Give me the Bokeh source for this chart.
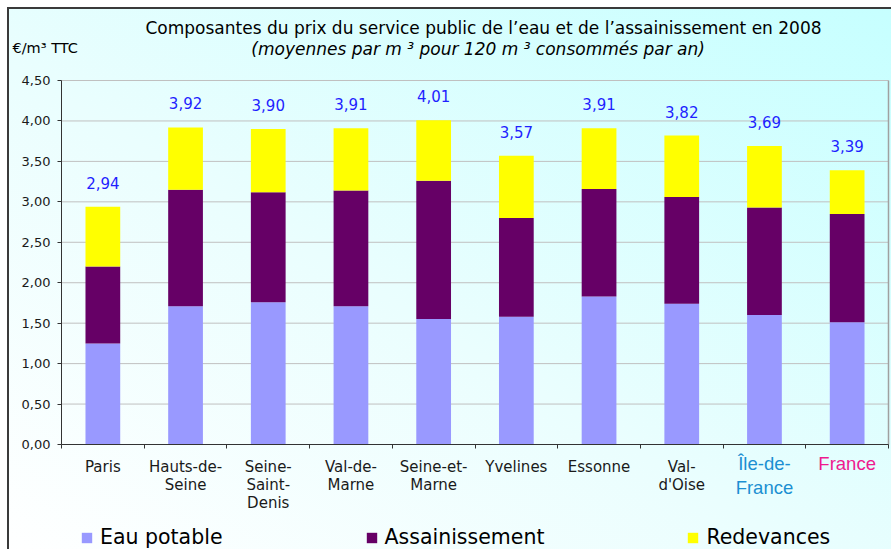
import numpy as np
from bokeh.plotting import figure
from bokeh.models import (ColumnDataSource, Range1d, FixedTicker, CustomJSTickFormatter,
                          LabelSet, Label, LinearAxis)
from bokeh.core.properties import value
from bokeh.embed import file_html
from bokeh.resources import INLINE

# ---- data ----
categories = ["Paris", "Hauts-de-\nSeine", "Seine-\nSaint-\nDenis", "Val-de-\nMarne",
              "Seine-et-\nMarne", "Yvelines", "Essonne", "Val-\nd'Oise",
              "Île-de-\nFrance", "France"]
eau_potable = [1.25, 1.71, 1.76, 1.71, 1.55, 1.58, 1.83, 1.74, 1.60, 1.51]
assainissement = [0.95, 1.44, 1.36, 1.43, 1.71, 1.22, 1.33, 1.32, 1.33, 1.34]
redevances = [0.74, 0.77, 0.78, 0.77, 0.75, 0.77, 0.75, 0.76, 0.76, 0.54]
totals = [2.94, 3.92, 3.90, 3.91, 4.01, 3.57, 3.91, 3.82, 3.69, 3.39]
series_names = ["Eau potable", "Assainissement", "Redevances"]
y_ticks = [0.0, 0.5, 1.0, 1.5, 2.0, 2.5, 3.0, 3.5, 4.0, 4.5]

# ---- styles ----
series_colors = ["#9999ff", "#660066", "#ffff00"]
label_colors = ["#1a1a1a"] * 8 + ["#1b8fd2", "#ee1a8e"]
label_fonts = ["DejaVu Sans"] * 8 + ["Liberation Sans", "Liberation Sans"]
label_sizes = ["15px"] * 8 + ["18.5px", "18.5px"]
label_first = [22] * 8 + [19, 19]      # px below the axis of the first line centre
label_step = [18] * 8 + [24, 24]       # px between lines

W, H = 891, 549
# plot-area placement (pixels) inside the canvas
PL, PR, PT, PB = 61, 888, 80, 444

n = len(categories)
xpos = np.arange(n) + 0.5
ymax = y_ticks[-1]
xu = (PR - PL) / n
yu = (PB - PT) / ymax

split = [c.split("\n") for c in categories]
nlines = max(len(s) for s in split)

cols = dict(
    x=xpos,
    eau=eau_potable,
    ass=assainissement,
    red=redevances,
    total=totals,
    total_txt=[f"{t:.2f}".replace(".", ",") for t in totals],
    zero=[0.0] * n,
    lcolor=label_colors,
    lfont=label_fonts,
    lsize=label_sizes,
)
for k in range(nlines):
    cols[f"line{k}"] = [s[k] if k < len(s) else "" for s in split]
    cols[f"off{k}"] = [-(f + k * st) for f, st in zip(label_first, label_step)]
src = ColumnDataSource(cols)
grid_src = ColumnDataSource(dict(y=y_ticks, x0=[0] * len(y_ticks), x1=[n] * len(y_ticks)))

bg = ("linear-gradient(#3a3a3a,#3a3a3a) 7px 7px / 2px 100% no-repeat, "
      "linear-gradient(#3a3a3a,#3a3a3a) 7px 7px / 100% 2px no-repeat, "
      "linear-gradient(to top right, #ffffff 0%, #eafefe 45%, #c6ffff 100%) 9px 9px / 100% 100% no-repeat")

p = figure(width=W, height=H, output_backend="svg", toolbar_location=None, title=None,
           x_axis_location=None, y_axis_location=None,
           x_range=Range1d(-PL / xu, n + (W - PR) / xu),
           y_range=Range1d(-(H - PB) / yu, ymax + PT / yu),
           min_border=0, styles={"background": bg})
p.background_fill_alpha = 0
p.border_fill_alpha = 0
p.outline_line_color = None
p.grid.visible = False

# gridlines
p.segment(x0="x0", x1="x1", y0="y", y1="y", source=grid_src, line_color="#c0c0c0", line_width=1)
# plot-area right border
p.segment(x0=[n], x1=[n], y0=[0], y1=[ymax], line_color="#a0a0a0", line_width=1.5)

p.vbar_stack(["eau", "ass", "red"], x="x", width=0.42, source=src,
             color=series_colors, line_color=None, legend_label=series_names)

# y axis
yaxis = LinearAxis(fixed_location=0, bounds=(0, ymax))
yaxis.ticker = FixedTicker(ticks=y_ticks)
yaxis.formatter = CustomJSTickFormatter(code="return tick.toFixed(2).replace('.', ',');")
yaxis.major_label_text_font = "DejaVu Sans"
yaxis.major_label_text_font_size = "13px"
yaxis.major_label_text_color = "#1a1a1a"
yaxis.axis_line_color = "#333333"
yaxis.major_tick_line_color = "#333333"
yaxis.major_tick_in = 0
yaxis.major_tick_out = 4
yaxis.minor_tick_line_color = None
yaxis.major_label_standoff = 7
p.add_layout(yaxis, "left")

# x axis: ticks at category boundaries, labels drawn separately
xaxis = LinearAxis(fixed_location=0, bounds=(0, n))
xaxis.ticker = FixedTicker(ticks=list(range(n + 1)))
xaxis.formatter = CustomJSTickFormatter(code="return '';")
xaxis.axis_line_color = "#333333"
xaxis.major_tick_line_color = "#333333"
xaxis.major_tick_in = 0
xaxis.major_tick_out = 4
xaxis.minor_tick_line_color = None
xaxis.major_label_text_font_size = "1px"
p.add_layout(xaxis, "below")

# value labels
p.add_layout(LabelSet(x="x", y="total", text="total_txt", source=src,
                      text_align="center", text_baseline="middle", y_offset=24,
                      text_font=value("DejaVu Sans"), text_font_size="15px",
                      text_color="#1f1fff"))

# category labels, one line at a time so each line is centred
for k in range(nlines):
    p.add_layout(LabelSet(x="x", y="zero", text=f"line{k}", source=src,
                          text_align="center", text_baseline="middle", y_offset=f"off{k}",
                          text_font="lfont", text_font_size="lsize",
                          text_color="lcolor"))

# titles
p.add_layout(Label(x=483, y=H - 27, x_units="screen", y_units="screen",
                   text="Composantes du prix du service public de l\u2019eau et de l\u2019assainissement en 2008",
                   text_align="center", text_baseline="middle",
                   text_font="DejaVu Sans", text_font_size="17px", text_color="#000000"))
p.add_layout(Label(x=483, y=H - 48, x_units="screen", y_units="screen",
                   text="(moyennes par m \u00b3  pour 120 m \u00b3  consommés par an)",
                   text_align="center", text_baseline="middle", text_font_style="italic",
                   text_font="DejaVu Sans", text_font_size="17px", text_color="#000000"))
p.add_layout(Label(x=12, y=H - 47, x_units="screen", y_units="screen",
                   text="€/m³ TTC", text_align="left", text_baseline="middle",
                   text_font="DejaVu Sans", text_font_size="14.5px", text_color="#000000"))

# legend
lg = p.legend[0]
lg.location = (80, 0)
lg.orientation = "horizontal"
lg.label_text_font = "DejaVu Sans"
lg.label_text_font_size = "20.5px"
lg.label_text_color = "#000000"
lg.glyph_width = 13
lg.glyph_height = 13
lg.label_height = 22
lg.label_standoff = 7
lg.spacing = 142
lg.padding = 0
lg.margin = 0
lg.background_fill_alpha = 0
lg.border_line_color = None

open("out.html", "w").write(file_html(p, INLINE))
